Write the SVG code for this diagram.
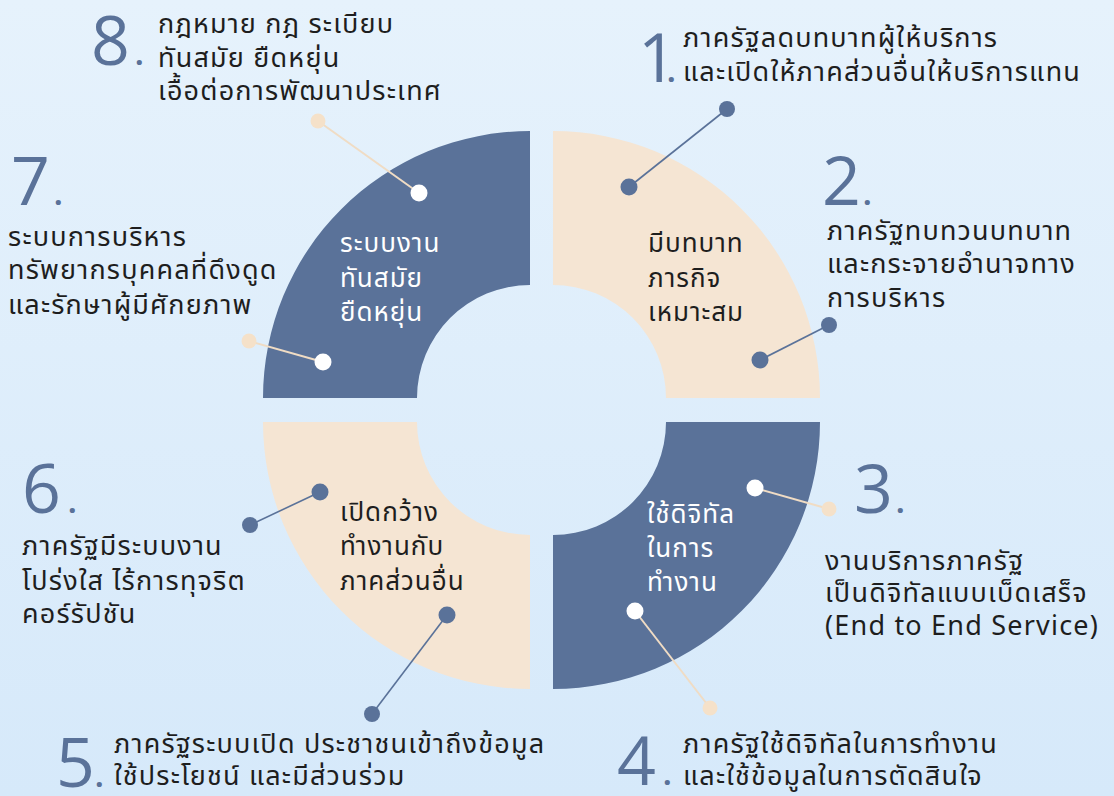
<svg xmlns="http://www.w3.org/2000/svg" width="1114" height="796" viewBox="0 0 1114 796">
<defs>
<linearGradient id="bg" x1="0" y1="0" x2="0" y2="1">
<stop offset="0" stop-color="#E6F2FC"/>
<stop offset="1" stop-color="#D6E9FA"/>
</linearGradient>
</defs>
<style>
.navy{fill:#5A7299}
.beige{fill:#F5E5D3}
.lbl{font-family:"Noto Sans Thai","Noto Sans","DejaVu Sans",sans-serif;font-size:26px;letter-spacing:1px}
.lw{fill:#FFFFFF}
.ld{fill:#1E1E1E}
.txt{font-family:"Noto Sans Thai","Noto Sans","DejaVu Sans",sans-serif;font-size:27px;letter-spacing:1.2px;fill:#1E1E1E}
.num{font-family:"Open Sans","Liberation Sans",sans-serif;font-weight:400;font-size:68px;fill:#5A7299}
.per{font-family:"Open Sans","Liberation Sans",sans-serif;font-size:30px;font-weight:700;fill:#5A7299}
.ln{stroke:#5A7299;stroke-width:1.6;fill:none}
.lb{stroke:#F0DCC4;stroke-width:2;fill:none}
.dn{fill:#5A7299}
.dw{fill:#FFFFFF}
.db{fill:#F5E1C9}
</style>
<rect width="1114" height="796" fill="url(#bg)"/>

<g id="q-topleft">
<path class="navy" d="M263 398 A267 267 0 0 1 530 131 L530 285 A113 113 0 0 0 417 398 Z"/>
<text class="lbl lw" x="340" y="252">ระบบงาน</text>
<text class="lbl lw" x="340" y="287">ทันสมัย</text>
<text class="lbl lw" x="340" y="321">ยืดหยุ่น</text>
</g>
<g id="q-topright">
<path class="beige" d="M553 131 A267 267 0 0 1 820 398 L666 398 A113 113 0 0 0 553 285 Z"/>
<text class="lbl ld" x="648" y="252">มีบทบาท</text>
<text class="lbl ld" x="648" y="287">ภารกิจ</text>
<text class="lbl ld" x="648" y="321">เหมาะสม</text>
</g>
<g id="q-bottomright">
<path class="navy" d="M820 422 A267 267 0 0 1 553 689 L553 535 A113 113 0 0 0 666 422 Z"/>
<text class="lbl lw" x="647" y="523">ใช้ดิจิทัล</text>
<text class="lbl lw" x="647" y="557">ในการ</text>
<text class="lbl lw" x="647" y="591">ทำงาน</text>
</g>
<g id="q-bottomleft">
<path class="beige" d="M530 689 A267 267 0 0 1 263 422 L417 422 A113 113 0 0 0 530 535 Z"/>
<text class="lbl ld" x="340" y="521">เปิดกว้าง</text>
<text class="lbl ld" x="340" y="555">ทำงานกับ</text>
<text class="lbl ld" x="340" y="590">ภาคส่วนอื่น</text>
</g>

<g id="connectors">
<line class="lb" x1="318" y1="121" x2="419" y2="193"/>
<circle class="db" cx="318" cy="121" r="7.5"/>
<circle class="dw" cx="419" cy="193" r="8.5"/>
<line class="lb" x1="249" y1="341" x2="323" y2="362"/>
<circle class="db" cx="249" cy="341" r="7.5"/>
<circle class="dw" cx="323" cy="362" r="8.5"/>
<line class="ln" x1="727" y1="109" x2="629" y2="187"/>
<circle class="dn" cx="727" cy="109" r="8"/>
<circle class="dn" cx="629" cy="187" r="8.5"/>
<line class="ln" x1="829" y1="325" x2="760" y2="360"/>
<circle class="dn" cx="829" cy="325" r="8"/>
<circle class="dn" cx="760" cy="360" r="8.5"/>
<line class="lb" x1="755" y1="488" x2="829" y2="509"/>
<circle class="dw" cx="755" cy="488" r="8.5"/>
<circle class="db" cx="829" cy="509" r="7.5"/>
<line class="lb" x1="635" y1="611" x2="710" y2="708"/>
<circle class="dw" cx="635" cy="611" r="8.5"/>
<circle class="db" cx="710" cy="708" r="7.5"/>
<line class="ln" x1="250" y1="525" x2="320" y2="492"/>
<circle class="dn" cx="250" cy="525" r="8"/>
<circle class="dn" cx="320" cy="492" r="8.5"/>
<line class="ln" x1="447" y1="615" x2="372" y2="714"/>
<circle class="dn" cx="447" cy="615" r="8.5"/>
<circle class="dn" cx="372" cy="714" r="8"/>
</g>

<g id="item1">
<text class="num" x="638" y="82">1</text>
<text class="per" x="667" y="82">.</text>
<text class="txt" x="683" y="47">ภาครัฐลดบทบาทผู้ให้บริการ</text>
<text class="txt" x="683" y="81">และเปิดให้ภาคส่วนอื่นให้บริการแทน</text>
</g>
<g id="item2">
<text class="num" x="822" y="205">2</text>
<text class="per" x="863" y="205">.</text>
<text class="txt" x="827" y="240">ภาครัฐทบทวนบทบาท</text>
<text class="txt" x="827" y="273">และกระจายอำนาจทาง</text>
<text class="txt" x="827" y="307">การบริหาร</text>
</g>
<g id="item3">
<text class="num" x="854" y="513">3</text>
<text class="per" x="896" y="513">.</text>
<text class="txt" x="825" y="570">งานบริการภาครัฐ</text>
<text class="txt" x="825" y="602">เป็นดิจิทัลแบบเบ็ดเสร็จ</text>
<text class="txt" x="825" y="635">(End to End Service)</text>
</g>
<g id="item4">
<text class="num" x="617" y="785">4</text>
<text class="per" x="663" y="785">.</text>
<text class="txt" x="683" y="753">ภาครัฐใช้ดิจิทัลในการทำงาน</text>
<text class="txt" x="683" y="785">และใช้ข้อมูลในการตัดสินใจ</text>
</g>
<g id="item5">
<text class="num" x="56" y="787">5</text>
<text class="per" x="95" y="787">.</text>
<text class="txt" x="114" y="753">ภาครัฐระบบเปิด ประชาชนเข้าถึงข้อมูล</text>
<text class="txt" x="114" y="785">ใช้ประโยชน์ และมีส่วนร่วม</text>
</g>
<g id="item6">
<text class="num" x="22" y="513">6</text>
<text class="per" x="68" y="513">.</text>
<text class="txt" x="22" y="555">ภาครัฐมีระบบงาน</text>
<text class="txt" x="22" y="590">โปร่งใส ไร้การทุจริต</text>
<text class="txt" x="22" y="623">คอร์รัปชัน</text>
</g>
<g id="item7">
<text class="num" x="11" y="205">7</text>
<text class="per" x="54" y="205">.</text>
<text class="txt" x="8" y="246">ระบบการบริหาร</text>
<text class="txt" x="8" y="279">ทรัพยากรบุคคลที่ดึงดูด</text>
<text class="txt" x="8" y="314">และรักษาผู้มีศักยภาพ</text>
</g>
<g id="item8">
<text class="num" x="91" y="65">8</text>
<text class="per" x="135" y="65">.</text>
<text class="txt" x="158" y="33">กฎหมาย กฎ ระเบียบ</text>
<text class="txt" x="158" y="67">ทันสมัย ยืดหยุ่น</text>
<text class="txt" x="158" y="100">เอื้อต่อการพัฒนาประเทศ</text>
</g>
</svg>
